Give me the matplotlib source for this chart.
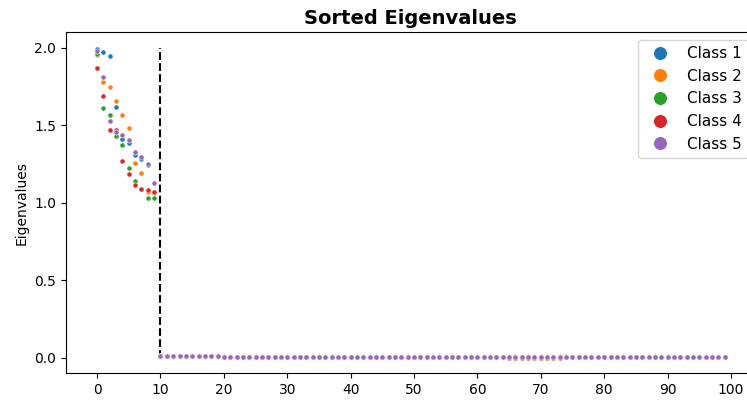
import matplotlib
matplotlib.use("Agg")
import matplotlib.pyplot as plt
from matplotlib.lines import Line2D

class_names = ["Class 1", "Class 2", "Class 3", "Class 4", "Class 5"]
colors = ["#1f77b4", "#ff7f0e", "#2ca02c", "#d62728", "#9467bd"]

head_class1 = [1.990, 1.970, 1.950, 1.620, 1.410, 1.385, 1.310, 1.280, 1.245, 1.072]
head_class2 = [1.953, 1.782, 1.750, 1.656, 1.564, 1.485, 1.256, 1.192, 1.070, 1.062]
head_class3 = [1.960, 1.613, 1.564, 1.434, 1.372, 1.223, 1.142, 1.090, 1.034, 1.034]
head_class4 = [1.870, 1.692, 1.472, 1.472, 1.270, 1.186, 1.114, 1.091, 1.081, 1.068]
head_class5 = [1.976, 1.814, 1.530, 1.457, 1.436, 1.402, 1.327, 1.297, 1.250, 1.130]

# indices 10..99
tail_common = [
    0.009, 0.009, 0.009, 0.009, 0.009, 0.009, 0.009, 0.009, 0.009, 0.009,
    0.008, 0.008, 0.008, 0.008, 0.008, 0.008, 0.008, 0.008, 0.008, 0.008,
    0.008, 0.008, 0.008, 0.008, 0.008, 0.008, 0.008, 0.008, 0.008, 0.008,
    0.007, 0.007, 0.007, 0.007, 0.007, 0.007, 0.007, 0.007, 0.007, 0.007,
    0.007, 0.007, 0.007, 0.007, 0.007, 0.007, 0.007, 0.007, 0.007, 0.007,
    0.006, 0.006, 0.006, 0.006, 0.006, 0.006, 0.006, 0.006, 0.006, 0.006,
    0.005, 0.004, 0.004, 0.004, 0.004, 0.004, 0.004, 0.004, 0.004, 0.004,
    0.003, 0.003, 0.003, 0.003, 0.003, 0.003, 0.003, 0.003, 0.003, 0.003,
    0.002, 0.002, 0.002, 0.002, 0.002, 0.002, 0.002, 0.002, 0.002, 0.002,
]
tail_class3 = [
    0.009, 0.009, 0.009, 0.009, 0.009, 0.009, 0.009, 0.009, 0.009, 0.009,
    0.008, 0.008, 0.008, 0.008, 0.008, 0.008, 0.008, 0.008, 0.008, 0.008,
    0.008, 0.008, 0.008, 0.008, 0.008, 0.008, 0.008, 0.008, 0.008, 0.008,
    0.007, 0.007, 0.007, 0.007, 0.007, 0.007, 0.007, 0.007, 0.007, 0.007,
    0.007, 0.007, 0.007, 0.007, 0.007, 0.007, 0.007, 0.007, 0.007, 0.007,
    0.006, 0.006, 0.006, 0.006, 0.006, 0.006, 0.006, 0.006, 0.006, 0.006,
    0.005, 0.004, 0.007, 0.008, 0.008, 0.007, 0.004, 0.004, 0.004, 0.004,
    0.003, 0.003, 0.003, 0.003, 0.003, 0.003, 0.003, 0.003, 0.003, 0.003,
    0.002, 0.002, 0.002, 0.002, 0.002, 0.002, 0.002, 0.002, 0.002, 0.002,
]
tail_class4 = [
    0.009, 0.009, 0.009, 0.009, 0.009, 0.009, 0.009, 0.009, 0.009, 0.009,
    0.008, 0.008, 0.008, 0.008, 0.008, 0.008, 0.008, 0.008, 0.008, 0.008,
    0.008, 0.008, 0.008, 0.008, 0.008, 0.008, 0.008, 0.008, 0.008, 0.008,
    0.007, 0.007, 0.007, 0.007, 0.007, 0.007, 0.007, 0.007, 0.007, 0.007,
    0.007, 0.007, 0.007, 0.007, 0.007, 0.007, 0.007, 0.007, 0.007, 0.007,
    0.006, 0.006, 0.006, 0.006, 0.006, 0.001, 0.001, 0.001, 0.001, 0.001,
    0.000, 0.000, 0.000, 0.000, 0.004, 0.004, 0.004, 0.004, 0.004, 0.004,
    0.003, 0.003, 0.003, 0.003, 0.003, 0.003, 0.003, 0.003, 0.003, 0.003,
    0.002, 0.002, 0.002, 0.002, 0.002, 0.002, 0.002, 0.002, 0.002, 0.002,
]

heads = [head_class1, head_class2, head_class3, head_class4, head_class5]
tails = [tail_common, tail_common, tail_class3, tail_class4, tail_common]

cutoff_index = 10
cutoff_top = 2.0

fig = plt.figure(figsize=(7.47, 4.05), dpi=100)
ax = fig.add_axes([0.088, 0.0783, 0.924, 0.842])

for name, col, h, t in zip(class_names, colors, heads, tails):
    vals = h + t
    xs = list(range(len(vals)))
    ax.scatter(xs, vals, s=14, color=col, edgecolors="white", linewidths=0.4, label=name, zorder=3)

ax.vlines(cutoff_index, 0, cutoff_top, colors="black", linestyles="--", linewidth=1.5, zorder=2)

ax.set_xticks(range(0, 101, 10))
ax.set_yticks([0.0, 0.5, 1.0, 1.5, 2.0])
ax.set_ylabel("Eigenvalues")
ax.set_title("Sorted Eigenvalues", fontsize=14, fontweight="bold")

handles = [Line2D([0], [0], marker="o", linestyle="", markersize=10, markerfacecolor=c,
                  markeredgecolor="white", markeredgewidth=0.6) for c in colors]
ax.legend(handles, class_names, loc="upper right", fontsize=11)

fig.savefig("out.png", dpi=100)
